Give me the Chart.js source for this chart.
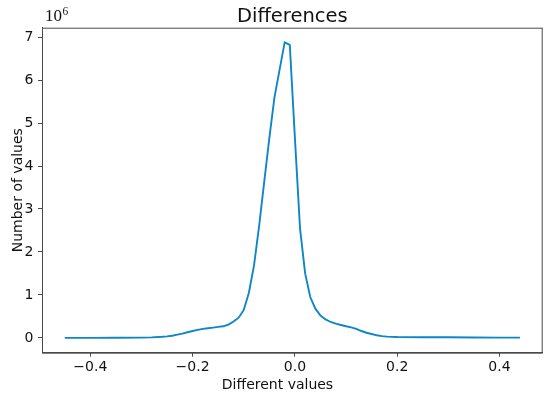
<!DOCTYPE html>
<html>
<head>
<meta charset="utf-8">
<script src="https://cdn.jsdelivr.net/npm/chart.js@4.4.1/dist/chart.umd.min.js"></script>
<style>
    html, body { margin: 0; padding: 0; background: #fff; }
    #wrap { width: 550px; height: 396px; position: relative; }
</style>
</head>
<body>
<div id="wrap"><canvas id="diffChart"></canvas></div>
<script>
// Difference histogram (counts in units of 1e6)
const diffValues = [
    -0.45, -0.40, -0.35, -0.30, -0.28, -0.26, -0.25, -0.24, -0.23, -0.22,
    -0.21, -0.20, -0.19, -0.18, -0.17, -0.16, -0.15, -0.14, -0.13, -0.12,
    -0.11, -0.10, -0.09, -0.08, -0.07, -0.06, -0.05, -0.04, -0.03, -0.02,
    -0.01, 0.00, 0.01, 0.02, 0.03, 0.04, 0.05, 0.06, 0.07, 0.08,
    0.09, 0.10, 0.11, 0.12, 0.13, 0.14, 0.15, 0.16, 0.17, 0.18,
    0.20, 0.25, 0.30, 0.35, 0.40, 0.44
];
const counts = [
    0.0, 0.0, 0.002, 0.006, 0.012, 0.025, 0.035, 0.05, 0.075, 0.10,
    0.13, 0.16, 0.185, 0.21, 0.225, 0.24, 0.255, 0.27, 0.31, 0.38,
    0.47, 0.65, 1.05, 1.68, 2.6, 3.63, 4.65, 5.6, 6.24, 6.88,
    6.82, 4.65, 2.55, 1.5, 0.95, 0.68, 0.52, 0.43, 0.37, 0.33,
    0.30, 0.27, 0.245, 0.21, 0.16, 0.12, 0.09, 0.06, 0.04, 0.03,
    0.02, 0.015, 0.015, 0.01, 0.005, 0.005
];
const xTicks = [-0.4, -0.2, 0.0, 0.2, 0.4];
const yTicks = [0, 1, 2, 3, 4, 5, 6, 7];

const titleText = 'Differences';
const xLabel = 'Different values';
const yLabel = 'Number of values';

const axisColor = '#4a4a4a';
const lineColor = '#0e86c8';
const font = 'DejaVu Sans';

function fmtX(v) {
    if (Math.abs(v) < 1e-9) return '0.0';
    return (v < 0 ? '\u2212' : '') + Math.abs(v).toFixed(1);
}

// frame + text drawn around the plot, matplotlib style
const decorations = {
    id: 'decorations',
    afterDraw(chart) {
        const { ctx, chartArea: a } = chart;
        ctx.save();
        ctx.strokeStyle = axisColor;
        ctx.lineWidth = 1;
        ctx.strokeRect(a.left + 0.5, a.top + 0.5, a.right - a.left - 1, a.bottom - a.top);

        ctx.fillStyle = '#111';
        ctx.textBaseline = 'alphabetic';

        ctx.font = '19.5px "' + font + '"';
        ctx.textAlign = 'center';
        ctx.fillText(titleText, (a.left + a.right) / 2, 21.7);

        ctx.font = '14px "' + font + '"';
        ctx.fillText(xLabel, 277.5, 388.5);

        ctx.save();
        ctx.translate(21.5, (a.top + a.bottom) / 2);
        ctx.rotate(-Math.PI / 2);
        ctx.fillText(yLabel, 0, 0);
        ctx.restore();

        ctx.textAlign = 'left';
        ctx.font = '17px "Liberation Serif"';
        ctx.fillText('10', 45, 20.7);
        ctx.font = '11.5px "Liberation Serif"';
        ctx.fillText('6', 62.5, 14.5);
        ctx.restore();
    }
};

const ctx = document.getElementById('diffChart');
new Chart(ctx, {
    type: 'line',
    data: {
        datasets: [{
            data: diffValues.map((x, i) => ({ x: x, y: counts[i] })),
            borderColor: lineColor,
            borderWidth: 1.9,
            pointRadius: 0,
            tension: 0,
            fill: false
        }]
    },
    options: {
        responsive: true,
        maintainAspectRatio: false,
        animation: false,
        layout: { padding: { top: 27.7, right: 7.3, left: 0, bottom: 0 } },
        plugins: {
            legend: { display: false },
            title: { display: false },
            tooltip: { enabled: false }
        },
        scales: {
            x: {
                type: 'linear',
                min: -0.4945,
                max: 0.4845,
                afterFit: s => { s.height = 43.3; },
                afterBuildTicks: s => { s.ticks = xTicks.map(v => ({ value: v })); },
                ticks: {
                    callback: fmtX,
                    color: '#111',
                    font: { family: font, size: 14 },
                    padding: 2,
                    maxRotation: 0
                },
                grid: { drawOnChartArea: false, drawTicks: true, tickLength: 4, color: axisColor },
                border: { display: true, color: axisColor, width: 1 }
            },
            y: {
                type: 'linear',
                min: -0.345,
                max: 7.22,
                afterFit: s => { s.width = 42; },
                afterBuildTicks: s => { s.ticks = yTicks.map(v => ({ value: v })); },
                ticks: {
                    callback: v => String(v),
                    color: '#111',
                    font: { family: font, size: 14 },
                    padding: 4.5
                },
                grid: { drawOnChartArea: false, drawTicks: true, tickLength: 4, color: axisColor },
                border: { display: true, color: axisColor, width: 1 }
            }
        }
    },
    plugins: [decorations]
});
</script>
</body>
</html>
